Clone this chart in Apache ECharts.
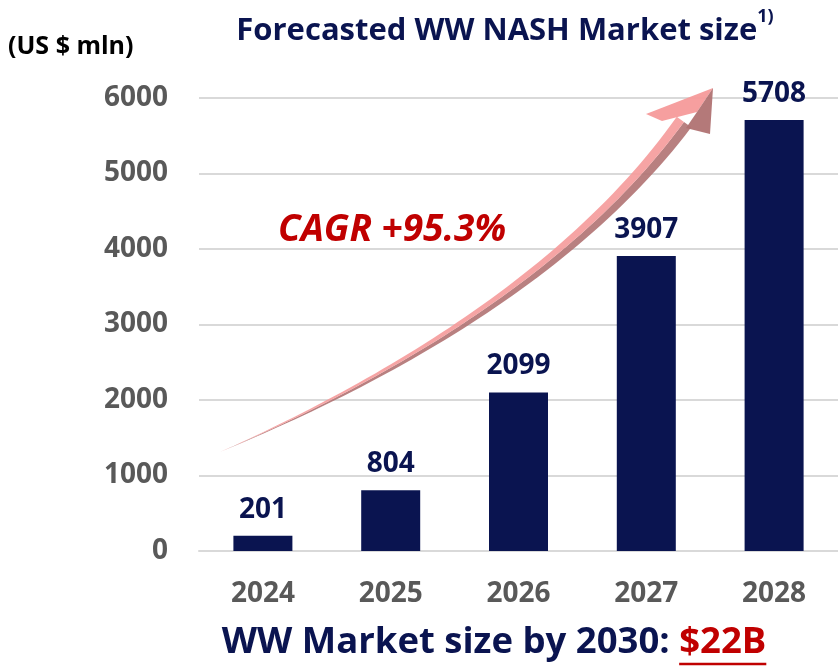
<!DOCTYPE html>
<html>
<head>
<meta charset="UTF-8">
<title>WW NASH Market size</title>
<script src="https://cdn.jsdelivr.net/npm/echarts@6/dist/echarts.min.js"></script>
<style>
  html, body { margin: 0; padding: 0; background: #fff; }
  #chart { width: 838px; height: 666px; }
</style>
</head>
<body>
<div id="chart"></div>
<script>
// data
var years = ['2024', '2025', '2026', '2027', '2028'];
var marketSize = [201, 804, 2099, 3907, 5708];
var yMin = 0, yMax = 6000, yStep = 1000;

var NAVY = '#0A1450';
var RED = '#C00000';
var GRAY = '#595959';
var FONT = '"Open Sans", "DejaVu Sans", sans-serif';

function textWidth(str, font) {
    var c = document.createElement('canvas').getContext('2d');
    c.font = font;
    return c.measureText(str).width;
}

// curved growth arrow (decoration): cubic centre line + growing width
function cubic(p0, p1, p2, p3, t) {
    var u = 1 - t;
    return [
        u*u*u*p0[0] + 3*u*u*t*p1[0] + 3*u*t*t*p2[0] + t*t*t*p3[0],
        u*u*u*p0[1] + 3*u*u*t*p1[1] + 3*u*t*t*p2[1] + t*t*t*p3[1]
    ];
}
function arrowShapes() {
    var P0 = [220, 452], P1 = [360, 392], P2 = [565, 285], P3 = [684, 122];
    var centre = [], upper = [], lower = [];
    var n = 60;
    for (var i = 0; i <= n; i++) {
        var t = i / n;
        var a = cubic(P0, P1, P2, P3, Math.max(0, t - 0.01));
        var b = cubic(P0, P1, P2, P3, Math.min(1, t + 0.01));
        var dx = b[0] - a[0], dy = b[1] - a[1];
        var len = Math.sqrt(dx*dx + dy*dy);
        var nx = dy / len, ny = -dx / len;
        var c = cubic(P0, P1, P2, P3, t);
        var w = 18 * Math.pow(t, 1.1);
        centre.push(c);
        upper.push([c[0] + nx*w/2, c[1] + ny*w/2]);
        lower.push([c[0] - nx*w/2, c[1] - ny*w/2]);
    }
    var light = upper.concat(centre.slice().reverse());
    var dark = centre.concat(lower.slice().reverse());
    return { light: light, dark: dark };
}

var chart = echarts.init(document.getElementById('chart'));
var arrow = arrowShapes();

var mainPart = 'WW Market size by 2030: ';
var redPart = '$22B';
var bottomFont = 'bold 36.5px "Open Sans"';
var w1 = textWidth(mainPart, bottomFont);
var w2 = textWidth(redPart, bottomFont);
var bx = 494 - (w1 + w2) / 2;

var option = {
    animation: false,
    title: {
        text: '{main|Forecasted WW NASH Market size}{sup|1)}',
        left: 500,
        textAlign: 'center',
        top: 3,
        textStyle: {
            rich: {
                main: { fontFamily: FONT, fontWeight: 'bold', fontSize: 31, color: NAVY, lineHeight: 46 },
                sup: { fontFamily: FONT, fontWeight: 'bold', fontSize: 18, color: NAVY, lineHeight: 18, verticalAlign: 'top' }
            }
        }
    },
    grid: { left: 199, top: 98, width: 642, height: 453 },
    xAxis: {
        type: 'category',
        data: years,
        axisTick: { show: false },
        axisLine: { lineStyle: { color: '#D9D9D9', width: 2 } },
        axisLabel: { color: GRAY, fontFamily: FONT, fontWeight: 'bold', fontSize: 28, margin: 29 }
    },
    yAxis: {
        type: 'value',
        min: yMin,
        max: yMax,
        interval: yStep,
        axisLine: { show: false },
        axisTick: { show: false },
        splitLine: { lineStyle: { color: '#D9D9D9', width: 2 } },
        axisLabel: {
            color: GRAY, fontFamily: FONT, fontWeight: 'bold', fontSize: 28, margin: 31,
            formatter: function (v) { return String(v); }
        }
    },
    series: [{
        type: 'bar',
        data: marketSize,
        barWidth: 59,
        itemStyle: { color: NAVY },
        label: {
            show: true,
            position: 'top',
            distance: 12,
            color: NAVY,
            fontFamily: FONT,
            fontWeight: 'bold',
            fontSize: 28
        }
    }],
    graphic: [
        {
            type: 'text', x: 8, y: 47,
            style: { text: '(US $ mln)', fill: '#000', font: 'bold 25px ' + FONT, textVerticalAlign: 'middle' }
        },
        {
            type: 'polygon', z: 50,
            shape: { points: arrow.dark },
            style: { fill: '#B07272', opacity: 0.9 }
        },
        {
            type: 'polygon', z: 50,
            shape: { points: arrow.light },
            style: { fill: '#F59A9A', opacity: 0.9 }
        },
        {
            type: 'polygon', z: 51,
            shape: { points: [[713, 88], [646, 114], [662, 121], [697, 112]] },
            style: { fill: '#F59A9A', opacity: 0.95 }
        },
        {
            type: 'polygon', z: 51,
            shape: { points: [[713, 88], [697, 112], [686, 128], [710, 134]] },
            style: { fill: '#B07272', opacity: 0.95 }
        },
        {
            type: 'text', x: 278, y: 230, z: 52,
            style: { text: 'CAGR +95.3%', fill: RED, font: 'italic bold 37px ' + FONT, textVerticalAlign: 'middle' }
        },
        {
            type: 'text', x: bx, y: 643,
            style: { text: mainPart, fill: NAVY, font: bottomFont, textVerticalAlign: 'middle' }
        },
        {
            type: 'text', x: bx + w1, y: 643,
            style: { text: redPart, fill: RED, font: bottomFont, textVerticalAlign: 'middle' }
        },
        {
            type: 'line',
            shape: { x1: bx + w1, y1: 664, x2: bx + w1 + w2, y2: 664 },
            style: { stroke: RED, lineWidth: 2.5 }
        }
    ]
};

chart.setOption(option);
</script>
</body>
</html>
